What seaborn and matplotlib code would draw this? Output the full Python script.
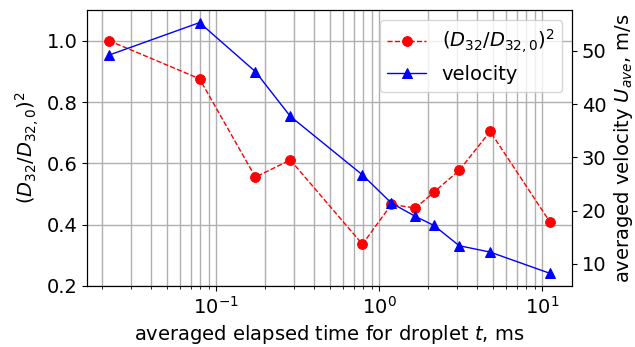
import numpy as np
import pandas as pd
import matplotlib
matplotlib.use('Agg')
import matplotlib.pyplot as plt
import seaborn as sns

# valeurs
elapsed_time = [0.022, 0.079, 0.174, 0.285, 0.79, 1.19, 1.67, 2.17, 3.1, 4.8, 11.2]
diam_ratio_sq = [1.0, 0.876, 0.555, 0.611, 0.336, 0.466, 0.454, 0.506, 0.577, 0.704, 0.408]
velocity = [49.2, 55.3, 46.1, 37.7, 26.7, 21.4, 18.9, 17.2, 13.4, 12.2, 8.2]

df = pd.DataFrame({'t': elapsed_time, 'd2': diam_ratio_sq, 'u': velocity})

sns.set_style('ticks')
plt.rcParams['font.family'] = ['DejaVu Sans']
plt.rcParams['font.size'] = 14
for key in ['text.color', 'axes.labelcolor', 'xtick.color', 'ytick.color']:
    plt.rcParams[key] = 'black'

fig = plt.figure(figsize=(6.35, 3.47), dpi=100)
ax1 = fig.add_axes([0.137, 0.176, 0.764, 0.795])
ax2 = ax1.twinx()

sns.lineplot(data=df, x='t', y='d2', ax=ax1, color='red', marker='o', markersize=7,
             markeredgecolor='red', linestyle='--', linewidth=1,
             label=r'$(D_{32}/D_{32,0})^2$')
sns.lineplot(data=df, x='t', y='u', ax=ax2, color='blue', marker='^', markersize=7,
             markeredgecolor='blue', linewidth=1, label='velocity')

ax1.set_xscale('log')
ax1.set_ylim(0.2, 1.1)
ax1.set_yticks([0.2, 0.4, 0.6, 0.8, 1.0])
ax1.grid(True, which='both', color='#b0b0b0', linewidth=1)
ax1.set_xlabel(r'averaged elapsed time for droplet $t$, ms', fontsize=14)
ax1.set_ylabel(r'$(D_{32}/D_{32,0})^2$', fontsize=14)
ax2.set_ylabel(r'averaged velocity $U_{ave}$, m/s', fontsize=14)
ax2.set_yticks([10, 20, 30, 40, 50])

for ax in (ax1, ax2):
    ax.tick_params(labelsize=14)
    for s in ax.spines.values():
        s.set_visible(True)
        s.set_color('black')

h1, l1 = ax1.get_legend_handles_labels()
h2, l2 = ax2.get_legend_handles_labels()
ax1.get_legend().remove()
ax2.get_legend().remove()
ax2.legend(h1 + h2, l1 + l2, loc='upper right', fontsize=14)

fig.savefig('out.png', dpi=100)
